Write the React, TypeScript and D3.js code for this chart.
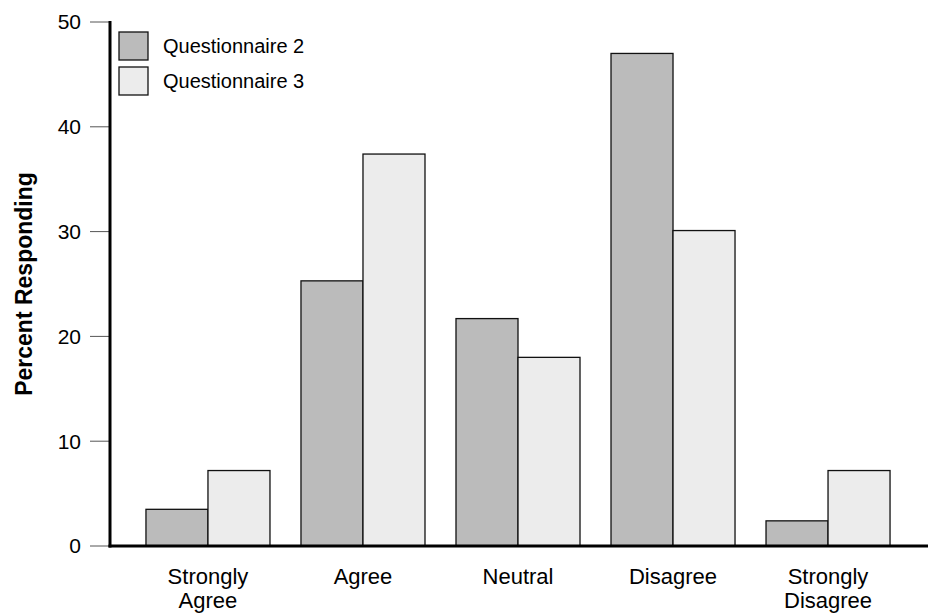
import React, { useRef, useEffect } from 'react'
import * as d3 from 'd3'

// chart data
const categories = ['Strongly\nAgree', 'Agree', 'Neutral', 'Disagree', 'Strongly\nDisagree']
const seriesNames = ['Questionnaire 2', 'Questionnaire 3']
const questionnaire2 = [3.5, 25.3, 21.7, 47.0, 2.4]
const questionnaire3 = [7.2, 37.4, 18.0, 30.1, 7.2]
const yTicks = [0, 10, 20, 30, 40, 50]
const colors = ['#bbbbbb', '#ececec']

const App: React.FC = () => {
  const svgRef = useRef<SVGSVGElement | null>(null)

  useEffect(() => {
    const svg = d3.select(svgRef.current)
    svg.selectAll('*').remove()

    const width = 930
    const height = 614
    const margin = { top: 22, right: 4, bottom: 68, left: 110 }
    const font = 'Liberation Sans, Arial, sans-serif'

    const x = d3
      .scaleBand()
      .domain(categories)
      .range([margin.left, width - margin.right])
      .paddingInner(0.2)
      .paddingOuter(0.232)

    const x1 = d3
      .scaleBand()
      .domain(seriesNames)
      .range([0, x.bandwidth()])

    const y = d3
      .scaleLinear()
      .domain([0, 50])
      .range([height - margin.bottom, margin.top])

    const values = [questionnaire2, questionnaire3]

    // bars
    const groups = svg
      .append('g')
      .selectAll('g')
      .data(categories)
      .enter()
      .append('g')
      .attr('transform', (d) => `translate(${x(d)},0)`)

    seriesNames.forEach((s, si) => {
      groups
        .append('rect')
        .attr('x', x1(s)!)
        .attr('width', x1.bandwidth())
        .attr('y', (_, i) => y(values[si][i]))
        .attr('height', (_, i) => y(0) - y(values[si][i]))
        .attr('fill', colors[si])
        .attr('stroke', '#111')
        .attr('stroke-width', 1.3)
    })

    // y ticks
    const yAxis = svg.append('g').attr('font-family', font).attr('font-size', 21)
    yTicks.forEach((t) => {
      yAxis
        .append('line')
        .attr('x1', 90)
        .attr('x2', margin.left)
        .attr('y1', y(t))
        .attr('y2', y(t))
        .attr('stroke', '#555')
        .attr('stroke-width', 1)
      yAxis
        .append('text')
        .attr('x', 81)
        .attr('y', y(t))
        .attr('dy', '0.35em')
        .attr('text-anchor', 'end')
        .text(t)
    })

    // axis lines
    svg
      .append('line')
      .attr('x1', margin.left)
      .attr('x2', margin.left)
      .attr('y1', y(50) - 1)
      .attr('y2', y(0) + 1.5)
      .attr('stroke', '#000')
      .attr('stroke-width', 3)
    svg
      .append('line')
      .attr('x1', margin.left - 1.5)
      .attr('x2', width - 2)
      .attr('y1', y(0))
      .attr('y2', y(0))
      .attr('stroke', '#000')
      .attr('stroke-width', 3)

    // category labels
    categories.forEach((c) => {
      const t = svg
        .append('text')
        .attr('font-family', font)
        .attr('font-size', 22)
        .attr('text-anchor', 'middle')
        .attr('x', x(c)! + x.bandwidth() / 2)
        .attr('y', 584)
      c.split('\n').forEach((line, i) => {
        t.append('tspan')
          .attr('x', x(c)! + x.bandwidth() / 2)
          .attr('dy', i === 0 ? 0 : 24)
          .text(line)
      })
    })

    // y axis title
    svg
      .append('text')
      .attr('font-family', font)
      .attr('font-size', 23)
      .attr('font-weight', 'bold')
      .attr('text-anchor', 'middle')
      .attr('transform', `translate(32,${(y(0) + y(50)) / 2}) rotate(-90)`)
      .text('Percent Responding')

    // legend
    const legend = svg.append('g').attr('font-family', font).attr('font-size', 20)
    seriesNames.forEach((s, i) => {
      legend
        .append('rect')
        .attr('x', 119)
        .attr('y', 32 + i * 35)
        .attr('width', 29)
        .attr('height', 28)
        .attr('fill', colors[i])
        .attr('stroke', '#111')
        .attr('stroke-width', 1.3)
      legend
        .append('text')
        .attr('x', 163)
        .attr('y', 46 + i * 35)
        .attr('dy', '0.35em')
        .text(s)
    })
  }, [])

  return <svg ref={svgRef} width={930} height={614} style={{ position: 'absolute', left: 0, top: 0 }}></svg>
}

export default App
